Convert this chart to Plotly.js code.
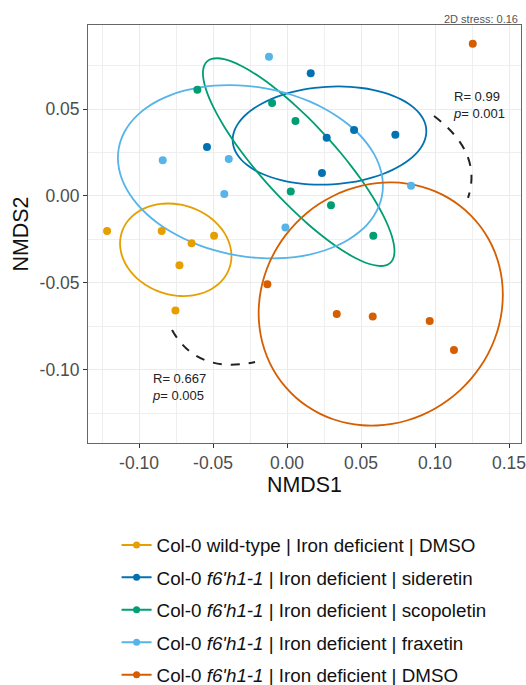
<!DOCTYPE html>
<html>
<head>
<meta charset="utf-8">
<script src="https://cdn.plot.ly/plotly-3.0.1.min.js"></script>
<style>
  html, body { margin: 0; padding: 0; background: #fff; }
  #chart { width: 526px; height: 685px; }
</style>
</head>
<body>
<div id="chart"></div>
<script>
// NMDS scores (NMDS1, NMDS2) of each sample, grouped by genotype / treatment
const groupNames = [
  "Col-0 wild-type | Iron deficient | DMSO",
  "Col-0 <i>f6'h1-1</i> | Iron deficient | sideretin",
  "Col-0 <i>f6'h1-1</i> | Iron deficient | scopoletin",
  "Col-0 <i>f6'h1-1</i> | Iron deficient | fraxetin",
  "Col-0 <i>f6'h1-1</i> | Iron deficient | DMSO"
];
const groupColors = ['#E69F00', '#0072B2', '#009E73', '#56B4E9', '#D55E00'];

const wtDmsoX = [-0.1216, -0.0847, -0.0645, -0.0493, -0.0727, -0.0754];
const wtDmsoY = [-0.0201, -0.0201, -0.0271, -0.0228, -0.0398, -0.0659];

const sideretinX = [-0.0541, 0.0160, 0.0268, 0.0453, 0.0732, 0.0236];
const sideretinY = [0.0282, 0.0705, 0.0335, 0.0379, 0.0352, 0.0132];

const scopoletinX = [-0.0606, -0.0101, 0.0057, 0.0025, 0.0297, 0.0583];
const scopoletinY = [0.0611, 0.0534, 0.0431, 0.0026, -0.0053, -0.0228];

const fraxetinX = [-0.0122, -0.0840, -0.0394, -0.0424, -0.0011, 0.0838];
const fraxetinY = [0.0800, 0.0205, 0.0213, 0.0011, -0.0181, 0.0059];

const f6hDmsoX = [0.1255, -0.0133, 0.0336, 0.0579, 0.0964, 0.1128];
const f6hDmsoY = [0.0875, -0.0507, -0.0678, -0.0693, -0.0718, -0.0885];

const groupX = [wtDmsoX, sideretinX, scopoletinX, fraxetinX, f6hDmsoX];
const groupY = [wtDmsoY, sideretinY, scopoletinY, fraxetinY, f6hDmsoY];

// Confidence level of the group ellipses
const ellipseLevel = 0.75;

// ANOSIM results shown next to the compared pairs
const anosimR = ['0.667', '0.99'];
const anosimP = ['0.005', '0.001'];
const stressValue = '0.16';

// Bracket curves (start, control, end) joining the compared groups
const arcLeftX = [-0.0777, -0.0611, -0.0216];
const arcLeftY = [-0.0770, -0.1026, -0.0954];
const arcRightX = [0.0993, 0.1324, 0.1223];
const arcRightY = [0.0460, 0.0247, -0.0011];

// Axis ticks
const xTickVals = [-0.10, -0.05, 0.00, 0.05, 0.10, 0.15];
const xTickText = ['-0.10', '-0.05', '0.00', '0.05', '0.10', '0.15'];
const yTickVals = [-0.10, -0.05, 0.00, 0.05];
const yTickText = ['-0.10', '-0.05', '0.00', '0.05'];

// Robust multivariate t covariance (as MASS::cov.trob, nu = 5)
function covTrob(xs, ys) {
  const n = xs.length, p = 2, nu = 5, maxit = 25, tol = 0.01;
  let w = new Array(n).fill(1);
  let loc = [xs.reduce((a, b) => a + b, 0) / n, ys.reduce((a, b) => a + b, 0) / n];
  let X = [];
  for (let iter = 0; iter < maxit; iter++) {
    const w0 = w.slice();
    X = xs.map((x, i) => [x - loc[0], ys[i] - loc[1]]);
    const sw = w.reduce((a, b) => a + b, 0);
    let a = 0, b = 0, c = 0;
    for (let i = 0; i < n; i++) {
      a += w[i] / sw * X[i][0] * X[i][0];
      b += w[i] / sw * X[i][0] * X[i][1];
      c += w[i] / sw * X[i][1] * X[i][1];
    }
    const det = a * c - b * b;
    w = X.map(([dx, dy]) => {
      const q = (c * dx * dx - 2 * b * dx * dy + a * dy * dy) / det;
      return (nu + p) / (nu + q);
    });
    const sw2 = w.reduce((s, v) => s + v, 0);
    loc = [
      w.reduce((s, v, i) => s + v * xs[i], 0) / sw2,
      w.reduce((s, v, i) => s + v * ys[i], 0) / sw2
    ];
    if (w.every((v, i) => Math.abs(v - w0[i]) < tol)) break;
  }
  let a = 0, b = 0, c = 0;
  for (let i = 0; i < n; i++) {
    a += w[i] * X[i][0] * X[i][0];
    b += w[i] * X[i][0] * X[i][1];
    c += w[i] * X[i][1] * X[i][1];
  }
  return { cov: [a / n, b / n, c / n], center: loc };
}

// Confidence ellipse, following ggplot2's stat_ellipse (type = "t")
function ellipsePath(xs, ys, level, segments = 51) {
  const { cov, center } = covTrob(xs, ys);
  const dfd = xs.length - 1;
  const fq = (dfd / 2) * (Math.pow(1 - level, -2 / dfd) - 1); // qf(level, 2, dfd)
  const radius = Math.sqrt(2 * fq);
  const r11 = Math.sqrt(cov[0]);
  const r12 = cov[1] / r11;
  const r22 = Math.sqrt(cov[2] - r12 * r12);
  const ex = [], ey = [];
  for (let k = 0; k <= segments; k++) {
    const t = k * 2 * Math.PI / segments;
    const u = Math.cos(t), v = Math.sin(t);
    ex.push(center[0] + radius * u * r11);
    ey.push(center[1] + radius * (u * r12 + v * r22));
  }
  return { ex, ey };
}

const traces = [];
groupNames.forEach((name, g) => {
  const { ex, ey } = ellipsePath(groupX[g], groupY[g], ellipseLevel);
  traces.push({
    type: 'scatter', mode: 'lines', x: ex, y: ey,
    line: { color: groupColors[g], width: 1.8, shape: 'spline', smoothing: 0.6 },
    showlegend: false, hoverinfo: 'skip', legendgroup: 'g' + g
  });
});
groupNames.forEach((name, g) => {
  traces.push({
    type: 'scatter', mode: 'markers', x: groupX[g], y: groupY[g],
    marker: { color: groupColors[g], size: 8 },
    showlegend: false, legendgroup: 'g' + g, name: name
  });
});
// legend keys (line + point)
groupNames.forEach((name, g) => {
  traces.push({
    type: 'scatter', mode: 'lines+markers', x: [null], y: [null],
    name: name, legendgroup: 'g' + g,
    line: { color: groupColors[g], width: 2 },
    marker: { color: groupColors[g], size: 7 }
  });
});

function bezierPath(px, py) {
  return 'M' + px[0] + ',' + py[0] + ' Q' + px[1] + ',' + py[1] + ' ' + px[2] + ',' + py[2];
}

const fontFamily = '"Liberation Sans", Arial, Helvetica, sans-serif';
const gridColor = '#ebebeb';

const layout = {
  width: 526, height: 685,
  margin: { l: 88, r: 5, t: 25, b: 242, autoexpand: false },
  paper_bgcolor: '#fff', plot_bgcolor: '#fff',
  font: { family: fontFamily, color: '#222' },
  showlegend: true,
  xaxis: {
    range: [-0.1345, 0.1581],
    tickvals: xTickVals, ticktext: xTickText,
    ticks: 'outside', ticklen: 4, tickwidth: 1, tickcolor: '#333',
    ticklabeloverflow: 'allow',
    tickfont: { size: 17.5, color: '#4d4d4d' },
    showgrid: true, gridcolor: gridColor, gridwidth: 1,
    minor: { dtick: 0.025, tick0: 0, showgrid: true, gridcolor: gridColor, gridwidth: 0.8, ticks: '' },
    zeroline: false, showline: true, mirror: true, linecolor: '#666', linewidth: 1,
    title: { text: 'NMDS1', font: { size: 21.4, color: '#111' }, standoff: 0 }
  },
  yaxis: {
    range: [-0.142, 0.0983],
    tickvals: yTickVals, ticktext: yTickText,
    ticks: 'outside', ticklen: 4, tickwidth: 1, tickcolor: '#333',
    tickfont: { size: 17.5, color: '#4d4d4d' },
    showgrid: true, gridcolor: gridColor, gridwidth: 1,
    minor: { dtick: 0.025, tick0: 0, showgrid: true, gridcolor: gridColor, gridwidth: 0.8, ticks: '' },
    zeroline: false, showline: true, mirror: true, linecolor: '#666', linewidth: 1,
    title: { text: 'NMDS2', font: { size: 21.4, color: '#111' }, standoff: 5 }
  },
  legend: {
    orientation: 'v',
    x: 0.066, xanchor: 'left',
    y: -0.199, yanchor: 'top',
    font: { size: 18.8, color: '#111' },
    itemwidth: 30,
    tracegroupgap: 5,
    bgcolor: 'rgba(0,0,0,0)'
  },
  shapes: [
    { type: 'path', xref: 'x', yref: 'y', path: bezierPath(arcLeftX, arcLeftY),
      line: { color: '#222', width: 2, dash: 'dash' } },
    { type: 'path', xref: 'x', yref: 'y', path: bezierPath(arcRightX, arcRightY),
      line: { color: '#222', width: 2, dash: 'dash' } }
  ],
  annotations: [
    { xref: 'x', yref: 'y', x: -0.0925, y: -0.1098, xanchor: 'left', yanchor: 'middle',
      align: 'left', showarrow: false, font: { size: 13, color: '#222' },
      text: 'R= ' + anosimR[0] + '<br><i>p</i>= ' + anosimP[0] },
    { xref: 'x', yref: 'y', x: 0.1105, y: 0.0523, xanchor: 'left', yanchor: 'middle',
      align: 'left', showarrow: false, font: { size: 13, color: '#222' },
      text: 'R= ' + anosimR[1] + '<br><i>p</i>= ' + anosimP[1] },
    { xref: 'paper', yref: 'paper', x: 1, y: 1, xanchor: 'right', yanchor: 'bottom',
      showarrow: false, font: { size: 11, color: '#555' }, yshift: -2, xshift: -1,
      text: '2D stress: ' + stressValue }
  ]
};

Plotly.newPlot('chart', traces, layout, { displayModeBar: false, staticPlot: true });
</script>
</body>
</html>
